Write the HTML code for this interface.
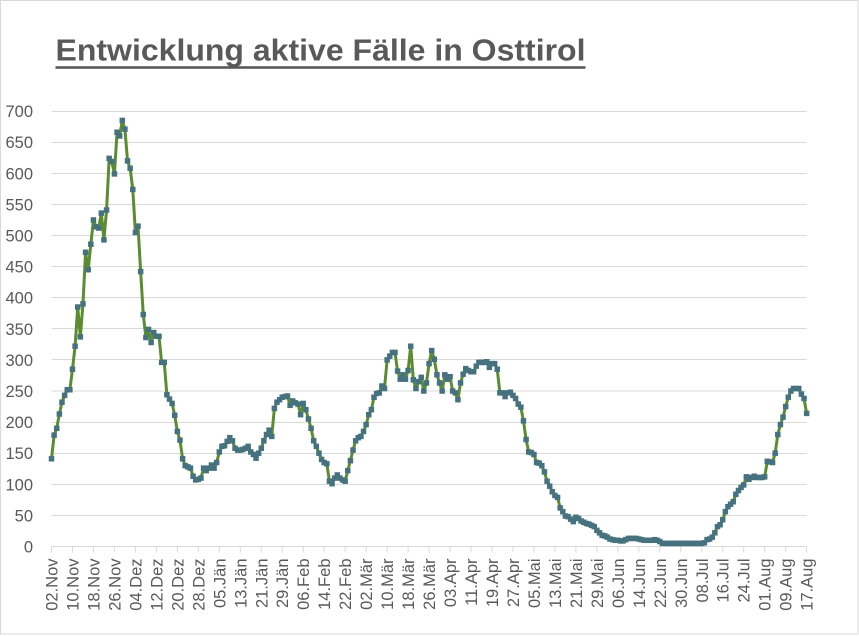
<!DOCTYPE html>
<html>
<head>
<meta charset="utf-8">
<style>
html,body{margin:0;padding:0;background:#fff;}
svg{display:block;}
</style>
</head>
<body>
<svg width="859" height="636" xmlns="http://www.w3.org/2000/svg" font-family="'Liberation Sans', Arial, sans-serif">
<defs>
<marker id="sq" markerUnits="userSpaceOnUse" markerWidth="4" markerHeight="16" refX="0" refY="0" overflow="visible">
<rect x="-1.049" y="-4.42" width="2.098" height="8.84" fill="#46727f"/>
</marker>
</defs>
<rect x="0.5" y="0.5" width="857.5" height="633.5" fill="#ffffff" stroke="#d9d9d9" stroke-width="1"/>

<text x="55.5" y="60.5" font-size="31" font-weight="bold" fill="#595959" textLength="530" lengthAdjust="spacingAndGlyphs">Entwicklung aktive Fälle in Osttirol</text>
<rect x="55.5" y="66.2" width="530" height="2.6" fill="#595959"/>

<g stroke="#d9d9d9" stroke-width="1">
<line x1="51.5" x2="806.6" y1="111.5" y2="111.5"/>
<line x1="51.5" x2="806.6" y1="142.5" y2="142.5"/>
<line x1="51.5" x2="806.6" y1="173.5" y2="173.5"/>
<line x1="51.5" x2="806.6" y1="204.5" y2="204.5"/>
<line x1="51.5" x2="806.6" y1="235.5" y2="235.5"/>
<line x1="51.5" x2="806.6" y1="266.5" y2="266.5"/>
<line x1="51.5" x2="806.6" y1="297.5" y2="297.5"/>
<line x1="51.5" x2="806.6" y1="328.5" y2="328.5"/>
<line x1="51.5" x2="806.6" y1="359.5" y2="359.5"/>
<line x1="51.5" x2="806.6" y1="391" y2="391"/>
<line x1="51.5" x2="806.6" y1="422.5" y2="422.5"/>
<line x1="51.5" x2="806.6" y1="453.5" y2="453.5"/>
<line x1="51.5" x2="806.6" y1="484.5" y2="484.5"/>
<line x1="51.5" x2="806.6" y1="515.5" y2="515.5"/>
<line x1="51.5" x2="806.6" y1="546.5" y2="546.5"/>
</g>

<g stroke="#d9d9d9" stroke-width="1">
<line x1="51.5" x2="51.5" y1="546.5" y2="552.5"/>
<line x1="72.48" x2="72.48" y1="546.5" y2="552.5"/>
<line x1="93.45" x2="93.45" y1="546.5" y2="552.5"/>
<line x1="114.43" x2="114.43" y1="546.5" y2="552.5"/>
<line x1="135.4" x2="135.4" y1="546.5" y2="552.5"/>
<line x1="156.38" x2="156.38" y1="546.5" y2="552.5"/>
<line x1="177.36" x2="177.36" y1="546.5" y2="552.5"/>
<line x1="198.33" x2="198.33" y1="546.5" y2="552.5"/>
<line x1="219.31" x2="219.31" y1="546.5" y2="552.5"/>
<line x1="240.28" x2="240.28" y1="546.5" y2="552.5"/>
<line x1="261.26" x2="261.26" y1="546.5" y2="552.5"/>
<line x1="282.24" x2="282.24" y1="546.5" y2="552.5"/>
<line x1="303.21" x2="303.21" y1="546.5" y2="552.5"/>
<line x1="324.19" x2="324.19" y1="546.5" y2="552.5"/>
<line x1="345.16" x2="345.16" y1="546.5" y2="552.5"/>
<line x1="366.14" x2="366.14" y1="546.5" y2="552.5"/>
<line x1="387.12" x2="387.12" y1="546.5" y2="552.5"/>
<line x1="408.09" x2="408.09" y1="546.5" y2="552.5"/>
<line x1="429.07" x2="429.07" y1="546.5" y2="552.5"/>
<line x1="450.04" x2="450.04" y1="546.5" y2="552.5"/>
<line x1="471.02" x2="471.02" y1="546.5" y2="552.5"/>
<line x1="492" x2="492" y1="546.5" y2="552.5"/>
<line x1="512.97" x2="512.97" y1="546.5" y2="552.5"/>
<line x1="533.95" x2="533.95" y1="546.5" y2="552.5"/>
<line x1="554.92" x2="554.92" y1="546.5" y2="552.5"/>
<line x1="575.9" x2="575.9" y1="546.5" y2="552.5"/>
<line x1="596.88" x2="596.88" y1="546.5" y2="552.5"/>
<line x1="617.85" x2="617.85" y1="546.5" y2="552.5"/>
<line x1="638.83" x2="638.83" y1="546.5" y2="552.5"/>
<line x1="659.8" x2="659.8" y1="546.5" y2="552.5"/>
<line x1="680.78" x2="680.78" y1="546.5" y2="552.5"/>
<line x1="701.76" x2="701.76" y1="546.5" y2="552.5"/>
<line x1="722.73" x2="722.73" y1="546.5" y2="552.5"/>
<line x1="743.71" x2="743.71" y1="546.5" y2="552.5"/>
<line x1="764.68" x2="764.68" y1="546.5" y2="552.5"/>
<line x1="785.66" x2="785.66" y1="546.5" y2="552.5"/>
<line x1="806.64" x2="806.64" y1="546.5" y2="552.5"/>
</g>

<g font-size="16.5" fill="#595959" text-anchor="end">
<text x="33" y="117.1">700</text>
<text x="33" y="148.2">650</text>
<text x="33" y="179.3">600</text>
<text x="33" y="210.4">550</text>
<text x="33" y="241.5">500</text>
<text x="33" y="272.6">450</text>
<text x="33" y="303.7">400</text>
<text x="33" y="334.8">350</text>
<text x="33" y="365.9">300</text>
<text x="33" y="397">250</text>
<text x="33" y="428.1">200</text>
<text x="33" y="459.2">150</text>
<text x="33" y="490.3">100</text>
<text x="33" y="521.4">50</text>
<text x="33" y="552.5">0</text>
</g>

<g font-size="16.5" fill="#595959" text-anchor="end">
<text transform="translate(57.5,558.5) rotate(-90)">02.Nov</text>
<text transform="translate(78.48,558.5) rotate(-90)">10.Nov</text>
<text transform="translate(99.45,558.5) rotate(-90)">18.Nov</text>
<text transform="translate(120.43,558.5) rotate(-90)">26.Nov</text>
<text transform="translate(141.4,558.5) rotate(-90)">04.Dez</text>
<text transform="translate(162.38,558.5) rotate(-90)">12.Dez</text>
<text transform="translate(183.36,558.5) rotate(-90)">20.Dez</text>
<text transform="translate(204.33,558.5) rotate(-90)">28.Dez</text>
<text transform="translate(225.31,558.5) rotate(-90)">05.Jän</text>
<text transform="translate(246.28,558.5) rotate(-90)">13.Jän</text>
<text transform="translate(267.26,558.5) rotate(-90)">21.Jän</text>
<text transform="translate(288.24,558.5) rotate(-90)">29.Jän</text>
<text transform="translate(309.21,558.5) rotate(-90)">06.Feb</text>
<text transform="translate(330.19,558.5) rotate(-90)">14.Feb</text>
<text transform="translate(351.16,558.5) rotate(-90)">22.Feb</text>
<text transform="translate(372.14,558.5) rotate(-90)">02.Mär</text>
<text transform="translate(393.12,558.5) rotate(-90)">10.Mär</text>
<text transform="translate(414.09,558.5) rotate(-90)">18.Mär</text>
<text transform="translate(435.07,558.5) rotate(-90)">26.Mär</text>
<text transform="translate(456.04,558.5) rotate(-90)">03.Apr</text>
<text transform="translate(477.02,558.5) rotate(-90)">11.Apr</text>
<text transform="translate(498,558.5) rotate(-90)">19.Apr</text>
<text transform="translate(518.97,558.5) rotate(-90)">27.Apr</text>
<text transform="translate(539.95,558.5) rotate(-90)">05.Mai</text>
<text transform="translate(560.92,558.5) rotate(-90)">13.Mai</text>
<text transform="translate(581.9,558.5) rotate(-90)">21.Mai</text>
<text transform="translate(602.88,558.5) rotate(-90)">29.Mai</text>
<text transform="translate(623.85,558.5) rotate(-90)">06.Jun</text>
<text transform="translate(644.83,558.5) rotate(-90)">14.Jun</text>
<text transform="translate(665.8,558.5) rotate(-90)">22.Jun</text>
<text transform="translate(686.78,558.5) rotate(-90)">30.Jun</text>
<text transform="translate(707.76,558.5) rotate(-90)">08.Jul</text>
<text transform="translate(728.73,558.5) rotate(-90)">16.Jul</text>
<text transform="translate(749.71,558.5) rotate(-90)">24.Jul</text>
<text transform="translate(770.68,558.5) rotate(-90)">01.Aug</text>
<text transform="translate(791.66,558.5) rotate(-90)">09.Aug</text>
<text transform="translate(812.64,558.5) rotate(-90)">17.Aug</text>
</g>

<g transform="translate(51.5,546.5) scale(2.622,-0.622)">
<polyline fill="none" stroke="#5b8c32" stroke-width="3" stroke-linejoin="round" vector-effect="non-scaling-stroke" points="0,141 1,179 2,190 3,213 4,232 5,243 6,252 7,252 8,285 9,322 10,385 11,337 12,390 13,473 14,445 15,486 16,525 17,514 18,512 19,536 20,493 21,541 22,624 23,619 24,599 25,666 26,660 27,685 28,671 29,620 30,608 31,574 32,505 33,515 34,442 35,373 36,336 37,349 38,328 39,344 40,338 41,338 42,296 43,296 44,244 45,237 46,230 47,211 48,185 49,171 50,141 51,130 52,128 53,126 54,113 55,107 56,108 57,110 58,126 59,122 60,126 61,131 62,126 63,135 64,152 65,161 66,162 67,169 68,175 69,170 70,158 71,155 72,155 73,156 74,158 75,161 76,152 77,148 78,142 79,150 80,158 81,170 82,180 83,187 84,177 85,222 86,232 87,236 88,240 89,241 90,242 91,227 92,234 93,231 94,229 95,212 96,230 97,220 98,205 99,190 100,170 101,161 102,150 103,140 104,135 105,133 106,105 107,101 108,110 109,115 110,110 111,107 112,105 113,122 114,138 115,155 116,170 117,175 118,177 119,185 120,196 121,212 122,220 123,240 124,246 125,247 126,258 127,254 128,300 129,306 130,312 131,312 132,282 133,269 134,276 135,269 136,283 137,322 138,268 139,254 140,265 141,272 142,250 143,263 144,294 145,315 146,301 147,276 148,263 149,250 150,276 151,269 152,273 153,250 154,247 155,236 156,263 157,277 158,286 159,283 160,281 161,281 162,290 163,296 164,296 165,296 166,297 167,288 168,294 169,294 170,285 171,247 172,247 173,241 174,247 175,248 176,243 177,238 178,229 179,224 180,202 181,172 182,152 183,151 184,148 185,135 186,134 187,130 188,120 189,105 190,97 191,88 192,82 193,79 194,62 195,56 196,49 197,48 198,44 199,40 200,47 201,45 202,41 203,39 204,37 205,36 206,34 207,32 208,26 209,22 210,18 211,17 212,15 213,12 214,11 215,10 216,10 217,9 218,9 219,11 220,13 221,13 222,13 223,13 224,12 225,11 226,10 227,10 228,10 229,10 230,11 231,10 232,8 233,5 234,5 235,5 236,5 237,5 238,5 239,5 240,5 241,5 242,5 243,5 244,5 245,5 246,5 247,5 248,5 249,6 250,11 251,12 252,15 253,22 254,32 255,35 256,43 257,56 258,64 259,68 260,72 261,84 262,90 263,95 264,99 265,112 266,108 267,111 268,113 269,111 270,111 271,111 272,112 273,137 274,136 275,135 276,150 277,180 278,196 279,208 280,225 281,240 282,250 283,254 284,254 285,254 286,245 287,238 288,214"/>
<polyline fill="none" stroke="none" marker-start="url(#sq)" marker-mid="url(#sq)" marker-end="url(#sq)" points="0,141 1,179 2,190 3,213 4,232 5,243 6,252 7,252 8,285 9,322 10,385 11,337 12,390 13,473 14,445 15,486 16,525 17,514 18,512 19,536 20,493 21,541 22,624 23,619 24,599 25,666 26,660 27,685 28,671 29,620 30,608 31,574 32,505 33,515 34,442 35,373 36,336 37,349 38,328 39,344 40,338 41,338 42,296 43,296 44,244 45,237 46,230 47,211 48,185 49,171 50,141 51,130 52,128 53,126 54,113 55,107 56,108 57,110 58,126 59,122 60,126 61,131 62,126 63,135 64,152 65,161 66,162 67,169 68,175 69,170 70,158 71,155 72,155 73,156 74,158 75,161 76,152 77,148 78,142 79,150 80,158 81,170 82,180 83,187 84,177 85,222 86,232 87,236 88,240 89,241 90,242 91,227 92,234 93,231 94,229 95,212 96,230 97,220 98,205 99,190 100,170 101,161 102,150 103,140 104,135 105,133 106,105 107,101 108,110 109,115 110,110 111,107 112,105 113,122 114,138 115,155 116,170 117,175 118,177 119,185 120,196 121,212 122,220 123,240 124,246 125,247 126,258 127,254 128,300 129,306 130,312 131,312 132,282 133,269 134,276 135,269 136,283 137,322 138,268 139,254 140,265 141,272 142,250 143,263 144,294 145,315 146,301 147,276 148,263 149,250 150,276 151,269 152,273 153,250 154,247 155,236 156,263 157,277 158,286 159,283 160,281 161,281 162,290 163,296 164,296 165,296 166,297 167,288 168,294 169,294 170,285 171,247 172,247 173,241 174,247 175,248 176,243 177,238 178,229 179,224 180,202 181,172 182,152 183,151 184,148 185,135 186,134 187,130 188,120 189,105 190,97 191,88 192,82 193,79 194,62 195,56 196,49 197,48 198,44 199,40 200,47 201,45 202,41 203,39 204,37 205,36 206,34 207,32 208,26 209,22 210,18 211,17 212,15 213,12 214,11 215,10 216,10 217,9 218,9 219,11 220,13 221,13 222,13 223,13 224,12 225,11 226,10 227,10 228,10 229,10 230,11 231,10 232,8 233,5 234,5 235,5 236,5 237,5 238,5 239,5 240,5 241,5 242,5 243,5 244,5 245,5 246,5 247,5 248,5 249,6 250,11 251,12 252,15 253,22 254,32 255,35 256,43 257,56 258,64 259,68 260,72 261,84 262,90 263,95 264,99 265,112 266,108 267,111 268,113 269,111 270,111 271,111 272,112 273,137 274,136 275,135 276,150 277,180 278,196 279,208 280,225 281,240 282,250 283,254 284,254 285,254 286,245 287,238 288,214"/>
</g>
</svg>
</body>
</html>
